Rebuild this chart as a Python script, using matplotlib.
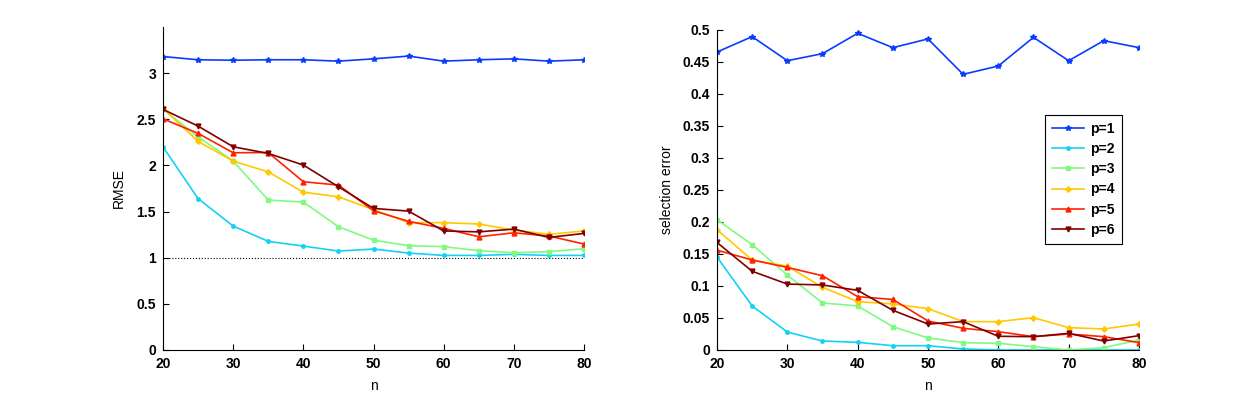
import matplotlib
matplotlib.use("Agg")
import matplotlib.pyplot as plt
from matplotlib.ticker import FuncFormatter

plt.rcParams.update({"font.family": ["Liberation Sans", "DejaVu Sans"], "font.size": 10,
                     "font.weight": "bold"})

n = [20, 25, 30, 35, 40, 45, 50, 55, 60, 65, 70, 75, 80]

# RMSE for each p
rmse_p1 = [3.18, 3.145, 3.14, 3.145, 3.145, 3.13, 3.155, 3.185, 3.13, 3.145, 3.155, 3.13, 3.145]
rmse_p2 = [2.20, 1.64, 1.343, 1.177, 1.126, 1.072, 1.094, 1.05, 1.025, 1.025, 1.036, 1.025, 1.025]
rmse_p3 = [2.607, 2.31, 2.047, 1.625, 1.603, 1.336, 1.19, 1.13, 1.12, 1.076, 1.054, 1.065, 1.097]
rmse_p4 = [2.62, 2.26, 2.047, 1.93, 1.71, 1.66, 1.52, 1.38, 1.38, 1.365, 1.30, 1.253, 1.29]
rmse_p5 = [2.505, 2.347, 2.137, 2.14, 1.823, 1.787, 1.509, 1.394, 1.318, 1.227, 1.27, 1.235, 1.148]
rmse_p6 = [2.607, 2.426, 2.202, 2.13, 2.004, 1.769, 1.534, 1.505, 1.29, 1.28, 1.31, 1.22, 1.263]

# selection error for each p
sel_p1 = [0.4656, 0.4896, 0.452, 0.463, 0.4948, 0.4724, 0.486, 0.4307, 0.4437, 0.4885, 0.452, 0.4833, 0.4724]
sel_p2 = [0.1453, 0.0688, 0.028, 0.014, 0.012, 0.0067, 0.0067, 0.0016, 0.0, 0.0, 0.0, 0.0, 0.0]
sel_p3 = [0.2036, 0.1646, 0.117, 0.0734, 0.0688, 0.0365, 0.0188, 0.0115, 0.0104, 0.0052, 0.0, 0.0036, 0.0156]
sel_p4 = [0.188, 0.1406, 0.131, 0.098, 0.0755, 0.072, 0.0646, 0.0443, 0.0443, 0.0505, 0.0349, 0.0328, 0.0406]
sel_p5 = [0.156, 0.1406, 0.129, 0.116, 0.0833, 0.079, 0.0453, 0.0339, 0.0286, 0.0208, 0.025, 0.0208, 0.0115]
sel_p6 = [0.168, 0.123, 0.103, 0.1016, 0.0932, 0.062, 0.0406, 0.0443, 0.0214, 0.0208, 0.026, 0.014, 0.0224]

labels = ["p=1", "p=2", "p=3", "p=4", "p=5", "p=6"]
colors = ["#0a3cff", "#12d2f6", "#80fa80", "#ffc800", "#ff2200", "#800000"]
markers = ["*", ".", "s", "P", "^", "v"]
msizes = [4, 5, 3.5, 3.5, 3.5, 3.5]

fmt = FuncFormatter(lambda v, pos: "%g" % v)


def estil(ax):
    # estil MATLAB: sense caixa, ticks cap a dins
    ax.spines["top"].set_visible(False)
    ax.spines["right"].set_visible(False)
    ax.tick_params(direction="in", length=4, width=0.8, pad=5)
    ax.set_xlim(20, 80)
    ax.set_xticks(range(20, 81, 10))
    ax.yaxis.set_major_formatter(fmt)
    ax.set_xlabel("n", labelpad=6)


fig = plt.figure(figsize=(12.57, 3.96), dpi=100)
ax1 = fig.add_axes([0.1297, 0.1162, 0.3349, 0.8156])
ax2 = fig.add_axes([0.5704, 0.1162, 0.3357, 0.8081])

# RMSE
ax1.plot([20, 80], [1, 1], ":", color="black", lw=0.8)
for ys, lab, c, m, ms in zip([rmse_p1, rmse_p2, rmse_p3, rmse_p4, rmse_p5, rmse_p6], labels, colors, markers, msizes):
    ax1.plot(n, ys, color=c, marker=m, ms=ms, lw=1.2, label=lab)
estil(ax1)
ax1.set_ylim(0, 3.5)
ax1.set_yticks([0, 0.5, 1, 1.5, 2, 2.5, 3])
ax1.set_ylabel("RMSE", labelpad=8)

# selection error
for ys, lab, c, m, ms in zip([sel_p1, sel_p2, sel_p3, sel_p4, sel_p5, sel_p6], labels, colors, markers, msizes):
    ax2.plot(n, ys, color=c, marker=m, ms=ms, lw=1.2, label=lab)
estil(ax2)
ax2.set_ylim(0, 0.5)
ax2.set_yticks([0, 0.05, 0.1, 0.15, 0.2, 0.25, 0.3, 0.35, 0.4, 0.45, 0.5])
ax2.set_ylabel("selection error", labelpad=6)
leg = ax2.legend(loc="upper right", bbox_to_anchor=(0.976, 0.757), fancybox=False,
                 edgecolor="black", framealpha=1, handlelength=2.3, handletextpad=0.5,
                 borderpad=0.5, labelspacing=0.45)
leg.get_frame().set_linewidth(0.8)

fig.savefig("out.png", dpi=100)
